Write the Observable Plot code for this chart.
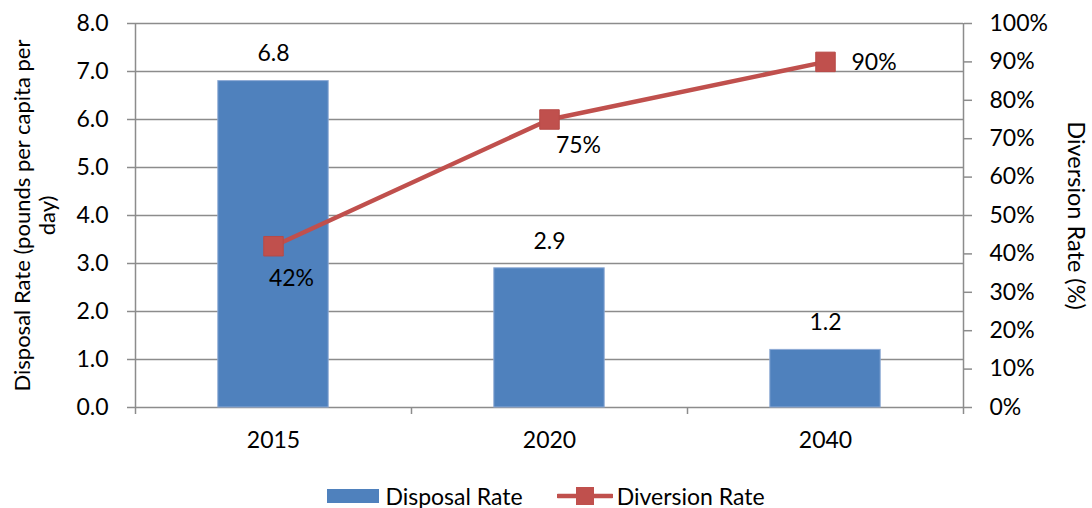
<!DOCTYPE html>
<html>
<head>
<meta charset="utf-8">
<script src="https://cdn.jsdelivr.net/npm/d3@7"></script>
<script src="https://cdn.jsdelivr.net/npm/@observablehq/plot@0.6"></script>
<style>
  html, body { margin: 0; padding: 0; background: #fff; }
  body { width: 1092px; height: 508px; position: relative; overflow: hidden;
         font-family: Lato, "Open Sans", "Liberation Sans", sans-serif; color: #000; }
  #chart svg { display: block; }
  #legend { position: absolute; left: 0; top: 481px; width: 1092px; height: 30px;
            display: flex; justify-content: center; align-items: center;
            font-size: 23px; line-height: 30px; }
  #legend .item { display: flex; align-items: center; }
  #legend svg { display: block; }
</style>
</head>
<body>
<div id="chart"></div>
<div id="legend"></div>
<script>
// Categories and series
const years = ["2015", "2020", "2040"];
const disposal = [6.8, 2.9, 1.2];      // pounds per capita per day
const diversion = [42, 75, 90];        // percent

// Axis ticks
const leftTicks = [0, 1, 2, 3, 4, 5, 6, 7, 8];
const pctTicks = [0, 10, 20, 30, 40, 50, 60, 70, 80, 90, 100];

// Colours
const barColor = "#4F81BD";
const lineColor = "#C0504D";
const axisColor = "#8c8c8c";

// The percent axis on the right shares the left scale: 100% sits at 8.0
const PCT = 8 / 100;

const rows = years.map((year, i) => ({
  year, i, disposal: disposal[i], diversion: diversion[i]
}));

const fontFamily = 'Lato, "Open Sans", "Liberation Sans", sans-serif';
const fs = 23;

const pctLabel = (year, opts) =>
  Plot.text(rows.filter(d => d.year === year), {
    x: d => d.i + 0.5,
    y: d => d.diversion * PCT,
    text: d => `${d.diversion}%`,
    fontSize: fs,
    fill: "#000",
    ...opts
  });

const chart = Plot.plot({
  width: 1092,
  height: 470,
  marginLeft: 135,
  marginRight: 129,
  marginTop: 23,
  marginBottom: 63,
  x: { domain: [0, years.length] },
  y: { domain: [0, 8] },
  style: { fontFamily, fontSize: `${fs}px`, color: "#000", background: "#fff" },
  marks: [
    // horizontal gridlines (the 0.0 line doubles as the category axis)
    Plot.gridY(leftTicks, { stroke: axisColor, strokeOpacity: 1, strokeWidth: 1.5 }),
    // vertical axis lines at both ends
    Plot.ruleX([0, years.length], { stroke: axisColor, strokeWidth: 1.5 }),

    // disposal bars
    Plot.rect(rows, {
      x1: d => d.i + 0.3,
      x2: d => d.i + 0.7,
      y1: 0,
      y2: "disposal",
      fill: barColor,
      stroke: "#8eaad5",
      strokeWidth: 1
    }),
    Plot.text(rows, {
      x: d => d.i + 0.5,
      y: "disposal",
      text: d => d3.format(".1f")(d.disposal),
      dy: -27,
      fontSize: fs,
      fill: "#000"
    }),

    // diversion line with square markers
    Plot.line(rows, {
      x: d => d.i + 0.5,
      y: d => d.diversion * PCT,
      stroke: lineColor,
      strokeWidth: 4.5
    }),
    Plot.dot(rows, {
      x: d => d.i + 0.5,
      y: d => d.diversion * PCT,
      symbol: "square",
      r: 11,
      fill: lineColor,
      stroke: "#b84a47",
      strokeWidth: 1
    }),
    pctLabel("2015", { dx: 18, dy: 32 }),
    pctLabel("2020", { dx: 29, dy: 26 }),
    pctLabel("2040", { dx: 26, dy: 1, textAnchor: "start" }),

    // left axis
    Plot.axisY({
      ticks: leftTicks,
      tickFormat: d3.format(".1f"),
      tickSize: 8,
      tickPadding: 19,
      stroke: axisColor,
      strokeWidth: 1.5,
      fill: "#000",
      label: null
    }),
    // right axis in percent
    Plot.axisY({
      anchor: "right",
      ticks: pctTicks.map(p => p * PCT),
      tickFormat: v => `${Math.round(v / PCT)}%`,
      tickSize: 8,
      tickPadding: 18,
      stroke: axisColor,
      strokeWidth: 1.5,
      fill: "#000",
      label: null
    }),
    // category boundary ticks
    Plot.axisX({
      ticks: d3.range(years.length + 1),
      tickSize: 7,
      tickFormat: () => "",
      stroke: axisColor,
      strokeWidth: 1.5,
      label: null
    }),
    // category labels
    Plot.axisX({
      ticks: years.map((_, i) => i + 0.5),
      tickSize: 0,
      tickPadding: 24,
      tickFormat: v => years[Math.floor(v)],
      fill: "#000",
      label: null
    }),

    // axis titles
    Plot.text(["Disposal Rate (pounds per capita per\nday)"], {
      frameAnchor: "left",
      textAnchor: "middle",
      rotate: -90,
      dx: -101,
      lineHeight: 1.15,
      fontSize: 22,
      fill: "#000"
    }),
    Plot.text(["Diversion Rate (%)"], {
      frameAnchor: "right",
      textAnchor: "middle",
      rotate: 90,
      dx: 112,
      fontSize: 23.5,
      fill: "#000"
    })
  ]
});
document.getElementById("chart").appendChild(chart);

// legend below the chart
const legend = d3.select("#legend");
const item1 = legend.append("div").attr("class", "item");
item1.append("svg").attr("width", 52).attr("height", 16)
  .append("rect").attr("x", 0).attr("y", 1).attr("width", 52).attr("height", 14)
  .attr("fill", barColor);
item1.append("span").style("margin-left", "6px").text("Disposal Rate");

const item2 = legend.append("div").attr("class", "item").style("margin-left", "34px");
const sw = item2.append("svg").attr("width", 56).attr("height", 20);
sw.append("line").attr("x1", 1).attr("x2", 55).attr("y1", 10).attr("y2", 10)
  .attr("stroke", lineColor).attr("stroke-width", 4.5).attr("stroke-linecap", "round");
sw.append("rect").attr("x", 19).attr("y", 1).attr("width", 18).attr("height", 18)
  .attr("fill", lineColor);
item2.append("span").style("margin-left", "4px").text("Diversion Rate");
</script>
</body>
</html>
